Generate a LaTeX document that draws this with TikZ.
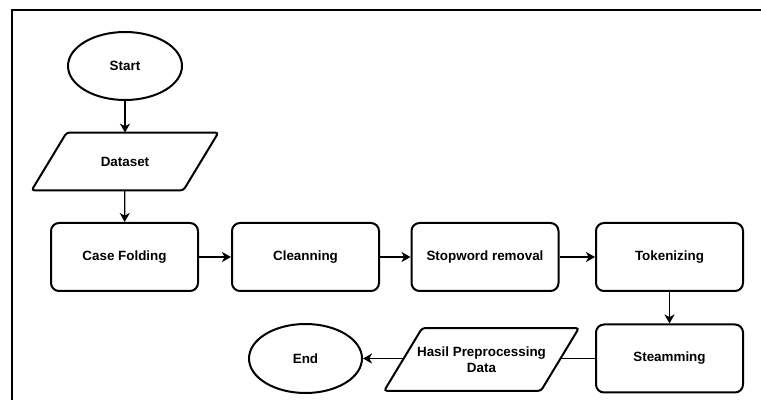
\documentclass[tikz,border=0pt]{standalone}
\usepackage{fontspec}
\setmainfont{Liberation Sans}
\usetikzlibrary{math,shapes.geometric,arrows.meta}

\tikzset{
	every node/.style={font=\fontsize{6.7}{8}\bfseries\selectfont},
	procbox/.style={draw,line width=1pt,rounded corners=4pt,minimum width=73.5pt,minimum height=34pt,inner sep=0pt,align=center},
	termbox/.style={draw,ellipse,line width=1pt,minimum width=57pt,minimum height=34pt,inner sep=0pt},
	iobox/.style={inner sep=0pt,align=center},
	ioline/.style={line width=1pt,rounded corners=1.5pt},
	flow/.style={line width=0.65pt,-{Stealth[length=4.5pt,width=5pt,inset=1.3pt]}},
}

\begin{document}
\begin{tikzpicture}[x=0.5pt,y=-0.5pt]
\useasboundingbox (0,0) rectangle (761,400);
\tikzmath{
	\rowy = 257;\stemy = 358.5;
	\cola = 124.5;\colb = 305.5;\colc = 485;\cold = 669.5;
	\slanta = 8.75;\slantb = 9.5;% half slant of the data boxes
	%
	{\draw[line width=1pt] (761,10.5) -- (11.5,10.5) -- (11.5,400);};
	%
	{\node[termbox] (start) at (125,66) {Start};};
	{\node[iobox,minimum width=75.5pt,minimum height=28.5pt] (data) at (125,161.5) {Dataset};};
	{\node[procbox] (fold) at (\cola,\rowy) {Case Folding};};
	{\node[procbox] (clean) at (\colb,\rowy) {Cleanning};};
	{\node[procbox] (stop) at (\colc,\rowy) {Stopword removal};};
	{\node[procbox] (token) at (\cold,\rowy) {Tokenizing};};
	{\node[procbox] (stem) at (\cold,\stemy) {Steamming};};
	{\node[iobox,minimum width=78pt,minimum height=31pt] (result) at (481.5,359.5) {Hasil Preprocessing\\Data};};
	{\node[termbox,minimum width=56.5pt,minimum height=34.5pt] (end) at (\colb,\stemy) {End};};
	%
	{\draw[ioline] ([xshift=-\slanta pt]data.south west) -- ([xshift=\slanta pt]data.north west)
		-- ([xshift=\slanta pt]data.north east) -- ([xshift=-\slanta pt]data.south east) -- cycle;};
	{\draw[ioline] ([xshift=-\slantb pt]result.south west) -- ([xshift=\slantb pt]result.north west)
		-- ([xshift=\slantb pt]result.north east) -- ([xshift=-\slantb pt]result.south east) -- cycle;};
	%
	{\draw[flow] (start) -- (data);};
	{\draw[flow] (data) -- (fold);};
	{\draw[flow] (fold) -- (clean);};
	{\draw[flow] (clean) -- (stop);};
	{\draw[flow] (stop) -- (token);};
	{\draw[flow] (token) -- (stem);};
	{\draw[line width=0.65pt] (stem) -- (stem -| result.east);};
	{\draw[flow] (stem -| result.west) -- (end);};
};
\end{tikzpicture}
\end{document}
